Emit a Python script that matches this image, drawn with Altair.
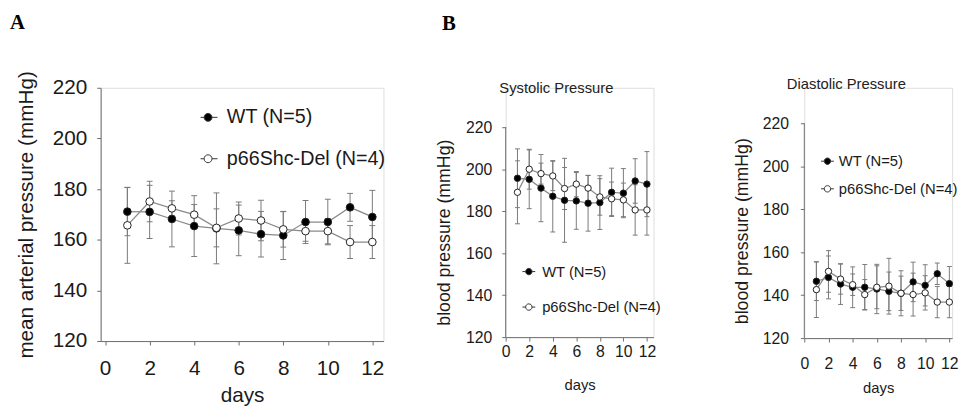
import altair as alt
import pandas as pd

SANS = "Liberation Sans"
SERIF = "Liberation Serif"
NBSP = "\u00a0"
ZWSP = "\u200b"

DAYS = list(range(1, 13))
GROUPS = ["WT (N=5)", "p66Shc-Del (N=4)"]
X_TICKS = [0, 2, 4, 6, 8, 10, 12]
Y_TICKS = [120, 140, 160, 180, 200, 220]
Y_MIN, Y_MAX = 120, 220

# Panel A: mean arterial pressure
MAP_WT = [171.1, 171.0, 168.2, 165.4, 164.5, 163.7, 162.2, 161.7, 167.0, 167.0, 172.8, 169.0]
MAP_WT_ERR = [9.5, 10.5, 11.0, 12.0, 14.0, 10.0, 9.0, 9.5, 8.5, 9.0, 5.5, 10.5]
MAP_KO = [165.7, 175.1, 172.4, 169.9, 164.7, 168.4, 167.6, 164.1, 163.4, 163.4, 159.1, 159.1]
MAP_KO_ERR = [15.0, 8.0, 3.0, 4.0, 7.5, 6.5, 8.0, 7.0, 4.0, 5.0, 6.5, 6.5]

# Panel B: systolic pressure
SYS_WT = [195.7, 195.2, 191.0, 187.1, 185.2, 184.9, 183.8, 184.1, 189.0, 188.6, 194.4, 192.9]
SYS_WT_ERR = [14.0, 14.0, 16.0, 17.0, 20.0, 13.5, 13.3, 12.8, 11.5, 11.7, 10.6, 15.5]
SYS_KO = [189.0, 200.0, 197.9, 196.8, 190.8, 192.9, 191.0, 186.8, 185.9, 185.4, 180.6, 180.6]
SYS_KO_ERR = [15.0, 9.5, 5.0, 7.0, 10.0, 6.0, 6.0, 8.7, 8.0, 8.0, 12.0, 12.0]

# Panel B: diastolic pressure
DIA_WT = [146.5, 148.3, 145.2, 143.7, 143.7, 142.9, 141.8, 140.9, 146.2, 144.6, 150.0, 145.4]
DIA_WT_ERR = [9.0, 10.0, 9.5, 9.5, 10.6, 11.5, 9.0, 10.5, 9.2, 9.6, 5.0, 8.0]
DIA_KO = [142.6, 151.1, 147.5, 144.9, 140.3, 143.7, 144.2, 140.9, 140.3, 141.1, 136.8, 136.8]
DIA_KO_ERR = [13.0, 9.7, 7.0, 5.0, 7.0, 10.0, 13.0, 8.0, 10.0, 8.0, 7.3, 7.3]

ERR_COLOR = "#7a7a7a"
LINE_COLOR = "#8a8a8a"
AXIS_COLOR = "#6e6e6e"
TEXT_COLOR = "#1a1a1a"


def long_df(wt, wt_err, ko, ko_err):
    rows = []
    for g, vals, errs in ((GROUPS[0], wt, wt_err), (GROUPS[1], ko, ko_err)):
        for d, v, e in zip(DAYS, vals, errs):
            rows.append({"day": d, "group": g, "value": v, "lo": v - e, "hi": v + e})
    return pd.DataFrame(rows)


def panel(df, *, width, height, xdom, ydom, ytitle, title,
          lab_fs, ytitle_fs, xtitle_fs, tick_size,
          y_lab_pad, y_title_pad, x_lab_pad, x_title_pad,
          pt_size, cap, sym_path, sym_size, leg_x, leg_y, leg_fs,
          leg_off, leg_row, own_axis_line=False, title_y=None):
    xaxis = alt.Axis(values=X_TICKS, title="days", grid=False, tickSize=tick_size,
                     labelPadding=x_lab_pad, titlePadding=x_title_pad,
                     labelFontSize=lab_fs, titleFontSize=xtitle_fs,
                     labelFont=SANS, titleFont=SANS, titleFontWeight="normal",
                     domainColor=AXIS_COLOR, tickColor=AXIS_COLOR,
                     labelColor=TEXT_COLOR, titleColor=TEXT_COLOR,
                     labelFlush=False, labelOverlap=False)
    yargs = dict(values=Y_TICKS, title=ytitle, grid=False, tickSize=tick_size,
                 labelPadding=y_lab_pad, titlePadding=y_title_pad,
                 labelFontSize=lab_fs, titleFontSize=ytitle_fs,
                 labelFont=SANS, titleFont=SANS, titleFontWeight="normal",
                 domainColor=AXIS_COLOR, tickColor=AXIS_COLOR,
                 labelColor=TEXT_COLOR, titleColor=TEXT_COLOR,
                 labelFlush=False, labelOverlap=False)
    if own_axis_line:
        yargs["domain"] = False
    if title_y is not None:
        yargs["titleY"] = title_y
    yaxis = alt.Axis(**yargs)
    xs = alt.Scale(domain=xdom, nice=False, zero=False)
    ys = alt.Scale(domain=ydom, nice=False, zero=False)
    X = alt.X("day:Q", scale=xs, axis=xaxis)

    def Y(field):
        return alt.Y(f"{field}:Q", scale=ys, axis=yaxis)

    base = alt.Chart(df)
    rule = base.mark_rule(color=ERR_COLOR, strokeWidth=1).encode(
        x=X, y=Y("lo"), y2="hi:Q", detail="group:N")
    cap_lo = base.mark_tick(orient="horizontal", size=cap, thickness=1,
                            color=ERR_COLOR, opacity=1).encode(x=X, y=Y("lo"))
    cap_hi = base.mark_tick(orient="horizontal", size=cap, thickness=1,
                            color=ERR_COLOR, opacity=1).encode(x=X, y=Y("hi"))
    line = base.mark_line(color=LINE_COLOR, strokeWidth=1.3).encode(
        x=X, y=Y("value"), detail="group:N")
    pts = base.mark_point(shape="circle", filled=True, size=pt_size, stroke="#222222",
                          strokeWidth=1, opacity=1).encode(
        x=X, y=Y("value"),
        fill=alt.Fill("group:N",
                      scale=alt.Scale(domain=GROUPS, range=["#000000", "#ffffff"]),
                      legend=alt.Legend(title=None, orient="none", legendX=leg_x,
                                        legendY=leg_y, direction="vertical",
                                        symbolType=sym_path, symbolSize=sym_size,
                                        symbolStrokeColor="#333333",
                                        symbolStrokeWidth=1, symbolOpacity=1,
                                        labelFont=SANS, labelFontSize=leg_fs,
                                        labelColor=TEXT_COLOR, labelOffset=leg_off,
                                        rowPadding=leg_row, padding=0, labelLimit=0)))
    layers = [rule, cap_lo, cap_hi, line, pts]
    if own_axis_line:
        axis_df = pd.DataFrame({"day": [xdom[0]], "lo": [Y_MIN], "hi": [Y_MAX]})
        layers.insert(0, alt.Chart(axis_df).mark_rule(color=AXIS_COLOR, strokeWidth=1).encode(
            x=X, y=Y("lo"), y2="hi:Q"))
    return alt.layer(*layers).properties(width=width, height=height, title=title)


PATH_A = "M-1.9,0L-1,0M1,0L2.4,0M1,0A1,1,0,1,1,-1,0A1,1,0,1,1,1,0Z"
PATH_B = "M-2,0L-1,0M1,0L2,0M1,0A1,1,0,1,1,-1,0A1,1,0,1,1,1,0Z"

chart_a = panel(
    long_df(MAP_WT, MAP_WT_ERR, MAP_KO, MAP_KO_ERR),
    width=287, height=257, xdom=[-0.2, 12.5], ydom=[Y_MIN, Y_MAX],
    ytitle="mean arterial pressure (mmHg)",
    title=alt.TitleParams("A", anchor="start", frame="bounds", font=SERIF,
                          fontSize=21, fontWeight="bold", color="#000000",
                          offset=38, dx=-6),
    lab_fs=21, ytitle_fs=21, xtitle_fs=21, tick_size=4,
    y_lab_pad=10, y_title_pad=16, x_lab_pad=13, x_title_pad=6,
    pt_size=60, cap=6, sym_path=PATH_A, sym_size=64,
    leg_x=99, leg_y=20, leg_fs=20, leg_off=9, leg_row=22)

# systolic: 220 sits 40px below the shared top edge of the row
chart_s = panel(
    long_df(SYS_WT, SYS_WT_ERR, SYS_KO, SYS_KO_ERR),
    width=150, height=253, xdom=[0, 12.56], ydom=[Y_MIN, 238.8],
    ytitle="blood  pressure (mmHg)",
    title=alt.TitleParams("B", anchor="start", frame="bounds", font=SERIF,
                          fontSize=21, fontWeight="bold", color="#000000",
                          subtitle=ZWSP + NBSP * 14 + "Systolic Pressure",
                          subtitleFont=SANS, subtitleFontSize=15,
                          subtitleColor="#222222", subtitlePadding=48,
                          offset=-8, dx=6),
    lab_fs=16, ytitle_fs=18, xtitle_fs=15, tick_size=4,
    y_lab_pad=10, y_title_pad=12, x_lab_pad=3, x_title_pad=18,
    pt_size=42, cap=5, sym_path=PATH_B, sym_size=42,
    leg_x=16, leg_y=179, leg_fs=15, leg_off=6, leg_row=20,
    own_axis_line=True, title_y=146.5)

chart_d = panel(
    long_df(DIA_WT, DIA_WT_ERR, DIA_KO, DIA_KO_ERR),
    width=150, height=254, xdom=[0, 12.23], ydom=[Y_MIN, 236.7],
    ytitle="blood  pressure (mmHg)",
    title=alt.TitleParams(NBSP, anchor="start", frame="bounds", font=SERIF,
                          fontSize=21, fontWeight="bold", color="#000000",
                          subtitle="Diastolic Pressure",
                          subtitleFont=SANS, subtitleFontSize=15,
                          subtitleColor="#222222", subtitlePadding=40,
                          offset=-4, dx=54),
    lab_fs=16, ytitle_fs=18, xtitle_fs=15, tick_size=4,
    y_lab_pad=12, y_title_pad=11, x_lab_pad=14, x_title_pad=9,
    pt_size=42, cap=5, sym_path=PATH_B, sym_size=42,
    leg_x=16, leg_y=67, leg_fs=15, leg_off=4, leg_row=12,
    own_axis_line=True, title_y=145)

panel_b = alt.concat(chart_s, chart_d, columns=2, spacing=71,
                     bounds="full").resolve_scale(fill="independent").resolve_legend(
    fill="independent")

chart = alt.concat(
    chart_a, panel_b, columns=2, spacing=49, bounds="full"
).resolve_scale(fill="independent").resolve_legend(fill="independent").properties(
    padding={"left": 1, "top": 1, "right": 2, "bottom": 2}
).configure_view(stroke=None).configure(background="white")

chart.save("out.html", embed_options={"renderer": "svg", "actions": False})
